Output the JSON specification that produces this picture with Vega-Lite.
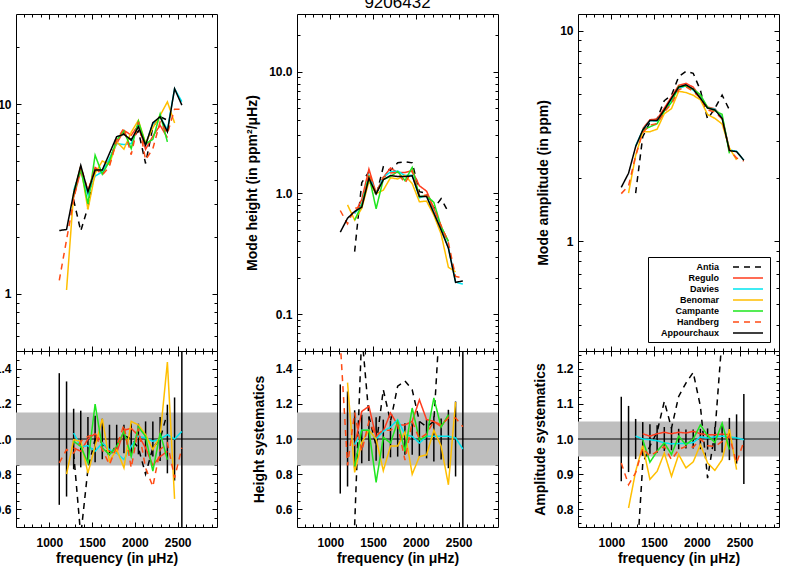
{
 "$schema": "https://vega.github.io/schema/vega-lite/v6.json",
 "autosize": "none",
 "padding": {"left": 16, "top": 14, "right": 779, "bottom": 572},
 "background": "white",
 "config": {
  "view": {"stroke": "black", "strokeWidth": 1},
  "font": "Liberation Sans",
  "axis": {"domain": false, "grid": false, "ticks": true, "tickColor": "black", "tickWidth": 1, "labelFont": "Liberation Sans", "labelFontWeight": "bold", "labelFontSize": 12, "labelColor": "black", "titleFont": "Liberation Sans", "titleFontWeight": "bold", "titleFontSize": 14, "titleColor": "black", "labelOverlap": false, "labelFlush": false, "labelBound": false}
 },
 "datasets": {
  "topL": [
   {"s":"Antia","f":1284,"v":3.13},{"s":"Antia","f":1367,"v":2.15},{"s":"Antia","f":1451,"v":2.87},{"s":"Antia","f":1535,"v":4.51},{"s":"Antia","f":1619,"v":4.42},{"s":"Antia","f":1703,"v":4.97},{"s":"Antia","f":1787,"v":6.56},{"s":"Antia","f":1872,"v":7.09},{"s":"Antia","f":1957,"v":6.49},{"s":"Antia","f":2041,"v":7.25},{"s":"Antia","f":2125,"v":4.88},{"s":"Antia","f":2210,"v":7.6},{"s":"Antia","f":2295,"v":8.61},{"s":"Antia","f":2380,"v":8.26},
   {"s":"Regulo","f":1284,"v":3.23},{"s":"Regulo","f":1367,"v":4.44},{"s":"Regulo","f":1451,"v":3.46},{"s":"Regulo","f":1535,"v":4.65},{"s":"Regulo","f":1619,"v":4.42},{"s":"Regulo","f":1703,"v":5.13},{"s":"Regulo","f":1787,"v":6.22},{"s":"Regulo","f":1872,"v":7.30},{"s":"Regulo","f":1957,"v":6.88},{"s":"Regulo","f":2041,"v":7.78},{"s":"Regulo","f":2125,"v":5.80},{"s":"Regulo","f":2210,"v":6.80},{"s":"Regulo","f":2295,"v":7.75},{"s":"Regulo","f":2380,"v":6.68},
   {"s":"Davies","f":1284,"v":3.52},{"s":"Davies","f":1367,"v":4.56},{"s":"Davies","f":1451,"v":3.33},{"s":"Davies","f":1535,"v":4.19},{"s":"Davies","f":1619,"v":4.41},{"s":"Davies","f":1703,"v":5.19},{"s":"Davies","f":1787,"v":6.22},{"s":"Davies","f":1872,"v":6.14},{"s":"Davies","f":1957,"v":6.22},{"s":"Davies","f":2041,"v":7.74},{"s":"Davies","f":2125,"v":6.14},{"s":"Davies","f":2210,"v":7.9},{"s":"Davies","f":2295,"v":8.61},{"s":"Davies","f":2380,"v":7.36},{"s":"Davies","f":2464,"v":12.1},{"s":"Davies","f":2549,"v":10.35},
   {"s":"Benomar","f":1201,"v":1.05},{"s":"Benomar","f":1284,"v":3.39},{"s":"Benomar","f":1367,"v":4.71},{"s":"Benomar","f":1451,"v":2.79},{"s":"Benomar","f":1535,"v":4.32},{"s":"Benomar","f":1619,"v":5.03},{"s":"Benomar","f":1703,"v":4.82},{"s":"Benomar","f":1787,"v":6.35},{"s":"Benomar","f":1872,"v":5.81},{"s":"Benomar","f":1957,"v":7.14},{"s":"Benomar","f":2041,"v":8.24},{"s":"Benomar","f":2125,"v":6.25},{"s":"Benomar","f":2210,"v":7.52},{"s":"Benomar","f":2295,"v":8.74},{"s":"Benomar","f":2380,"v":10.32},{"s":"Benomar","f":2464,"v":7.99},
   {"s":"Campante","f":1284,"v":3.36},{"s":"Campante","f":1367,"v":4.57},{"s":"Campante","f":1451,"v":2.99},{"s":"Campante","f":1535,"v":5.40},{"s":"Campante","f":1619,"v":4.28},{"s":"Campante","f":1703,"v":5.03},{"s":"Campante","f":1787,"v":6.48},{"s":"Campante","f":1872,"v":7.25},{"s":"Campante","f":1957,"v":5.84},{"s":"Campante","f":2041,"v":8.15},{"s":"Campante","f":2125,"v":6.19},{"s":"Campante","f":2210,"v":6.54},{"s":"Campante","f":2295,"v":8.90},{"s":"Campante","f":2380,"v":6.34},
   {"s":"Handberg","f":1116,"v":1.18},{"s":"Handberg","f":1201,"v":1.93},{"s":"Handberg","f":1284,"v":3.13},{"s":"Handberg","f":1367,"v":4.71},{"s":"Handberg","f":1451,"v":3.51},{"s":"Handberg","f":1535,"v":4.62},{"s":"Handberg","f":1619,"v":4.24},{"s":"Handberg","f":1703,"v":4.71},{"s":"Handberg","f":1787,"v":6.48},{"s":"Handberg","f":1872,"v":7.51},{"s":"Handberg","f":1957,"v":5.43},{"s":"Handberg","f":2041,"v":8.09},{"s":"Handberg","f":2125,"v":5.10},{"s":"Handberg","f":2210,"v":5.84},{"s":"Handberg","f":2295,"v":8.09},{"s":"Handberg","f":2380,"v":7.01},{"s":"Handberg","f":2464,"v":9.44},{"s":"Handberg","f":2549,"v":9.42},
   {"s":"Appourchaux","f":1116,"v":2.16},{"s":"Appourchaux","f":1201,"v":2.19},{"s":"Appourchaux","f":1284,"v":3.40},{"s":"Appourchaux","f":1367,"v":4.77},{"s":"Appourchaux","f":1451,"v":3.46},{"s":"Appourchaux","f":1535,"v":4.51},{"s":"Appourchaux","f":1619,"v":4.51},{"s":"Appourchaux","f":1703,"v":5.52},{"s":"Appourchaux","f":1787,"v":6.76},{"s":"Appourchaux","f":1872,"v":6.95},{"s":"Appourchaux","f":1957,"v":6.49},{"s":"Appourchaux","f":2041,"v":7.63},{"s":"Appourchaux","f":2125,"v":6.10},{"s":"Appourchaux","f":2210,"v":8.0},{"s":"Appourchaux","f":2295,"v":8.61},{"s":"Appourchaux","f":2380,"v":7.18},{"s":"Appourchaux","f":2464,"v":12.1},{"s":"Appourchaux","f":2549,"v":9.92}
  ],
  "topM": [
   {"s":"Antia","f":1284,"v":0.33},{"s":"Antia","f":1367,"v":1.22},{"s":"Antia","f":1451,"v":1.50},{"s":"Antia","f":1535,"v":0.95},{"s":"Antia","f":1619,"v":1.65},{"s":"Antia","f":1703,"v":1.54},{"s":"Antia","f":1787,"v":1.78},{"s":"Antia","f":1872,"v":1.82},{"s":"Antia","f":1957,"v":1.78},{"s":"Antia","f":2041,"v":1.03},{"s":"Antia","f":2125,"v":1.0},{"s":"Antia","f":2210,"v":0.75},{"s":"Antia","f":2295,"v":0.9},{"s":"Antia","f":2380,"v":0.7},
   {"s":"Regulo","f":1284,"v":0.68},{"s":"Regulo","f":1367,"v":0.886},{"s":"Regulo","f":1451,"v":1.58},{"s":"Regulo","f":1535,"v":1.0},{"s":"Regulo","f":1619,"v":1.35},{"s":"Regulo","f":1703,"v":1.61},{"s":"Regulo","f":1787,"v":1.48},{"s":"Regulo","f":1872,"v":1.48},{"s":"Regulo","f":1957,"v":1.53},{"s":"Regulo","f":2041,"v":1.15},{"s":"Regulo","f":2125,"v":1.04},{"s":"Regulo","f":2210,"v":0.75},{"s":"Regulo","f":2295,"v":0.53},{"s":"Regulo","f":2380,"v":0.40},
   {"s":"Davies","f":1284,"v":0.683},{"s":"Davies","f":1367,"v":0.804},{"s":"Davies","f":1451,"v":1.40},{"s":"Davies","f":1535,"v":0.987},{"s":"Davies","f":1619,"v":1.35},{"s":"Davies","f":1703,"v":1.50},{"s":"Davies","f":1787,"v":1.52},{"s":"Davies","f":1872,"v":1.40},{"s":"Davies","f":1957,"v":1.41},{"s":"Davies","f":2041,"v":0.917},{"s":"Davies","f":2125,"v":0.953},{"s":"Davies","f":2210,"v":0.694},{"s":"Davies","f":2295,"v":0.505},{"s":"Davies","f":2380,"v":0.357},{"s":"Davies","f":2464,"v":0.185},{"s":"Davies","f":2549,"v":0.178},
   {"s":"Benomar","f":1201,"v":0.80},{"s":"Benomar","f":1284,"v":0.60},{"s":"Benomar","f":1367,"v":0.75},{"s":"Benomar","f":1451,"v":1.25},{"s":"Benomar","f":1535,"v":0.99},{"s":"Benomar","f":1619,"v":1.06},{"s":"Benomar","f":1703,"v":1.34},{"s":"Benomar","f":1787,"v":1.31},{"s":"Benomar","f":1872,"v":1.40},{"s":"Benomar","f":1957,"v":1.20},{"s":"Benomar","f":2041,"v":0.85},{"s":"Benomar","f":2125,"v":0.86},{"s":"Benomar","f":2210,"v":0.66},{"s":"Benomar","f":2295,"v":0.46},{"s":"Benomar","f":2380,"v":0.245},{"s":"Benomar","f":2464,"v":0.225},
   {"s":"Campante","f":1284,"v":0.60},{"s":"Campante","f":1367,"v":0.80},{"s":"Campante","f":1451,"v":1.40},{"s":"Campante","f":1535,"v":0.744},{"s":"Campante","f":1619,"v":1.30},{"s":"Campante","f":1703,"v":1.37},{"s":"Campante","f":1787,"v":1.51},{"s":"Campante","f":1872,"v":1.27},{"s":"Campante","f":1957,"v":1.63},{"s":"Campante","f":2041,"v":0.935},{"s":"Campante","f":2125,"v":0.953},{"s":"Campante","f":2210,"v":0.84},{"s":"Campante","f":2295,"v":0.53},{"s":"Campante","f":2380,"v":0.40},
   {"s":"Handberg","f":1116,"v":0.72},{"s":"Handberg","f":1201,"v":0.558},{"s":"Handberg","f":1284,"v":0.752},{"s":"Handberg","f":1367,"v":0.766},{"s":"Handberg","f":1451,"v":1.46},{"s":"Handberg","f":1535,"v":1.0},{"s":"Handberg","f":1619,"v":1.35},{"s":"Handberg","f":1703,"v":1.47},{"s":"Handberg","f":1787,"v":1.48},{"s":"Handberg","f":1872,"v":1.21},{"s":"Handberg","f":1957,"v":1.53},{"s":"Handberg","f":2041,"v":0.94},{"s":"Handberg","f":2125,"v":0.97},{"s":"Handberg","f":2210,"v":0.75},{"s":"Handberg","f":2295,"v":0.54},{"s":"Handberg","f":2380,"v":0.39},{"s":"Handberg","f":2464,"v":0.206},{"s":"Handberg","f":2549,"v":0.20},
   {"s":"Appourchaux","f":1116,"v":0.477},{"s":"Appourchaux","f":1201,"v":0.622},{"s":"Appourchaux","f":1284,"v":0.706},{"s":"Appourchaux","f":1367,"v":0.766},{"s":"Appourchaux","f":1451,"v":1.33},{"s":"Appourchaux","f":1535,"v":0.987},{"s":"Appourchaux","f":1619,"v":1.29},{"s":"Appourchaux","f":1703,"v":1.40},{"s":"Appourchaux","f":1787,"v":1.37},{"s":"Appourchaux","f":1872,"v":1.37},{"s":"Appourchaux","f":1957,"v":1.39},{"s":"Appourchaux","f":2041,"v":0.939},{"s":"Appourchaux","f":2125,"v":0.939},{"s":"Appourchaux","f":2210,"v":0.684},{"s":"Appourchaux","f":2295,"v":0.498},{"s":"Appourchaux","f":2380,"v":0.352},{"s":"Appourchaux","f":2464,"v":0.184},{"s":"Appourchaux","f":2549,"v":0.189}
  ],
  "topR": [
   {"s":"Antia","f":1284,"v":1.69},{"s":"Antia","f":1367,"v":3.13},{"s":"Antia","f":1451,"v":3.67},{"s":"Antia","f":1535,"v":3.81},{"s":"Antia","f":1619,"v":4.65},{"s":"Antia","f":1703,"v":4.92},{"s":"Antia","f":1787,"v":6.04},{"s":"Antia","f":1872,"v":6.41},{"s":"Antia","f":1957,"v":6.27},{"s":"Antia","f":2041,"v":5.21},{"s":"Antia","f":2125,"v":3.80},{"s":"Antia","f":2210,"v":4.27},{"s":"Antia","f":2295,"v":4.94},{"s":"Antia","f":2380,"v":4.20},
   {"s":"Regulo","f":1367,"v":3.42},{"s":"Regulo","f":1451,"v":3.77},{"s":"Regulo","f":1535,"v":3.80},{"s":"Regulo","f":1619,"v":4.28},{"s":"Regulo","f":1703,"v":4.84},{"s":"Regulo","f":1787,"v":5.49},{"s":"Regulo","f":1872,"v":5.62},{"s":"Regulo","f":1957,"v":5.39},{"s":"Regulo","f":2041,"v":4.84},{"s":"Regulo","f":2125,"v":4.33},{"s":"Regulo","f":2210,"v":4.25},{"s":"Regulo","f":2295,"v":3.88},{"s":"Regulo","f":2380,"v":2.72},
   {"s":"Davies","f":1284,"v":2.83},{"s":"Davies","f":1367,"v":3.37},{"s":"Davies","f":1451,"v":3.73},{"s":"Davies","f":1535,"v":3.72},{"s":"Davies","f":1619,"v":4.15},{"s":"Davies","f":1703,"v":4.70},{"s":"Davies","f":1787,"v":5.32},{"s":"Davies","f":1872,"v":5.46},{"s":"Davies","f":1957,"v":5.22},{"s":"Davies","f":2041,"v":4.80},{"s":"Davies","f":2125,"v":4.29},{"s":"Davies","f":2210,"v":4.23},{"s":"Davies","f":2295,"v":3.86},{"s":"Davies","f":2380,"v":2.71},{"s":"Davies","f":2464,"v":2.67},{"s":"Davies","f":2549,"v":2.42},
   {"s":"Benomar","f":1201,"v":1.69},{"s":"Benomar","f":1284,"v":2.55},{"s":"Benomar","f":1367,"v":3.31},{"s":"Benomar","f":1451,"v":3.31},{"s":"Benomar","f":1535,"v":3.40},{"s":"Benomar","f":1619,"v":4.03},{"s":"Benomar","f":1703,"v":4.26},{"s":"Benomar","f":1787,"v":5.15},{"s":"Benomar","f":1872,"v":5.08},{"s":"Benomar","f":1957,"v":4.93},{"s":"Benomar","f":2041,"v":4.69},{"s":"Benomar","f":2125,"v":3.99},{"s":"Benomar","f":2210,"v":3.83},{"s":"Benomar","f":2295,"v":3.60},{"s":"Benomar","f":2380,"v":2.77},{"s":"Benomar","f":2464,"v":2.43},
   {"s":"Campante","f":1367,"v":3.36},{"s":"Campante","f":1451,"v":3.49},{"s":"Campante","f":1535,"v":3.61},{"s":"Campante","f":1619,"v":4.15},{"s":"Campante","f":1703,"v":4.56},{"s":"Campante","f":1787,"v":5.43},{"s":"Campante","f":1872,"v":5.44},{"s":"Campante","f":1957,"v":5.27},{"s":"Campante","f":2041,"v":4.96},{"s":"Campante","f":2125,"v":4.32},{"s":"Campante","f":2210,"v":4.16},{"s":"Campante","f":2295,"v":4.0},{"s":"Campante","f":2380,"v":2.61},
   {"s":"Handberg","f":1116,"v":1.68},{"s":"Handberg","f":1201,"v":1.83},{"s":"Handberg","f":1284,"v":2.54},{"s":"Handberg","f":1367,"v":3.28},{"s":"Handberg","f":1451,"v":3.56},{"s":"Handberg","f":1535,"v":3.61},{"s":"Handberg","f":1619,"v":4.11},{"s":"Handberg","f":1703,"v":4.49},{"s":"Handberg","f":1787,"v":5.23},{"s":"Handberg","f":1872,"v":5.41},{"s":"Handberg","f":1957,"v":5.15},{"s":"Handberg","f":2041,"v":4.77},{"s":"Handberg","f":2125,"v":4.20},{"s":"Handberg","f":2210,"v":4.11},{"s":"Handberg","f":2295,"v":3.80},{"s":"Handberg","f":2380,"v":2.71},{"s":"Handberg","f":2464,"v":2.48},{"s":"Handberg","f":2549,"v":2.40},
   {"s":"Appourchaux","f":1116,"v":1.80},{"s":"Appourchaux","f":1201,"v":2.10},{"s":"Appourchaux","f":1284,"v":2.81},{"s":"Appourchaux","f":1367,"v":3.37},{"s":"Appourchaux","f":1451,"v":3.74},{"s":"Appourchaux","f":1535,"v":3.74},{"s":"Appourchaux","f":1619,"v":4.20},{"s":"Appourchaux","f":1703,"v":4.77},{"s":"Appourchaux","f":1787,"v":5.39},{"s":"Appourchaux","f":1872,"v":5.53},{"s":"Appourchaux","f":1957,"v":5.27},{"s":"Appourchaux","f":2041,"v":4.77},{"s":"Appourchaux","f":2125,"v":4.28},{"s":"Appourchaux","f":2210,"v":4.20},{"s":"Appourchaux","f":2295,"v":3.83},{"s":"Appourchaux","f":2380,"v":2.69},{"s":"Appourchaux","f":2464,"v":2.66},{"s":"Appourchaux","f":2549,"v":2.42}
  ],
  "ratL": [
   {"s":"Antia","f":1284,"v":0.92},{"s":"Antia","f":1367,"v":0.45},{"s":"Antia","f":1451,"v":0.83},{"s":"Antia","f":1535,"v":1.0},{"s":"Antia","f":1619,"v":0.98},{"s":"Antia","f":1703,"v":0.9},{"s":"Antia","f":1787,"v":0.97},{"s":"Antia","f":1872,"v":1.02},{"s":"Antia","f":1957,"v":1.0},{"s":"Antia","f":2041,"v":0.95},{"s":"Antia","f":2125,"v":0.8},{"s":"Antia","f":2210,"v":0.95},{"s":"Antia","f":2295,"v":1.0},{"s":"Antia","f":2380,"v":1.15},
   {"s":"Regulo","f":1284,"v":0.95},{"s":"Regulo","f":1367,"v":0.93},{"s":"Regulo","f":1451,"v":1.0},{"s":"Regulo","f":1535,"v":1.03},{"s":"Regulo","f":1619,"v":0.98},{"s":"Regulo","f":1703,"v":0.93},{"s":"Regulo","f":1787,"v":0.92},{"s":"Regulo","f":1872,"v":1.05},{"s":"Regulo","f":1957,"v":1.06},{"s":"Regulo","f":2041,"v":1.02},{"s":"Regulo","f":2125,"v":0.95},{"s":"Regulo","f":2210,"v":0.85},{"s":"Regulo","f":2295,"v":0.9},{"s":"Regulo","f":2380,"v":0.93},
   {"s":"Davies","f":1284,"v":1.034},{"s":"Davies","f":1367,"v":0.955},{"s":"Davies","f":1451,"v":0.962},{"s":"Davies","f":1535,"v":0.93},{"s":"Davies","f":1619,"v":0.977},{"s":"Davies","f":1703,"v":0.94},{"s":"Davies","f":1787,"v":0.92},{"s":"Davies","f":1872,"v":0.883},{"s":"Davies","f":1957,"v":0.958},{"s":"Davies","f":2041,"v":1.015},{"s":"Davies","f":2125,"v":1.006},{"s":"Davies","f":2210,"v":0.987},{"s":"Davies","f":2295,"v":1.0},{"s":"Davies","f":2380,"v":1.025},{"s":"Davies","f":2464,"v":1.0},{"s":"Davies","f":2549,"v":1.043},
   {"s":"Benomar","f":1201,"v":0.80},{"s":"Benomar","f":1284,"v":0.996},{"s":"Benomar","f":1367,"v":0.987},{"s":"Benomar","f":1451,"v":0.807},{"s":"Benomar","f":1535,"v":0.958},{"s":"Benomar","f":1619,"v":1.115},{"s":"Benomar","f":1703,"v":0.873},{"s":"Benomar","f":1787,"v":0.94},{"s":"Benomar","f":1872,"v":0.836},{"s":"Benomar","f":1957,"v":1.10},{"s":"Benomar","f":2041,"v":1.08},{"s":"Benomar","f":2125,"v":1.025},{"s":"Benomar","f":2210,"v":0.94},{"s":"Benomar","f":2295,"v":1.015},{"s":"Benomar","f":2380,"v":1.437},{"s":"Benomar","f":2464,"v":0.66},
   {"s":"Campante","f":1284,"v":0.987},{"s":"Campante","f":1367,"v":0.958},{"s":"Campante","f":1451,"v":0.864},{"s":"Campante","f":1535,"v":1.198},{"s":"Campante","f":1619,"v":0.95},{"s":"Campante","f":1703,"v":0.911},{"s":"Campante","f":1787,"v":0.958},{"s":"Campante","f":1872,"v":1.043},{"s":"Campante","f":1957,"v":0.90},{"s":"Campante","f":2041,"v":1.068},{"s":"Campante","f":2125,"v":1.015},{"s":"Campante","f":2210,"v":0.817},{"s":"Campante","f":2295,"v":1.034},{"s":"Campante","f":2380,"v":0.883},
   {"s":"Handberg","f":1116,"v":0.864},{"s":"Handberg","f":1201,"v":0.94},{"s":"Handberg","f":1284,"v":0.92},{"s":"Handberg","f":1367,"v":0.987},{"s":"Handberg","f":1451,"v":1.015},{"s":"Handberg","f":1535,"v":1.025},{"s":"Handberg","f":1619,"v":0.94},{"s":"Handberg","f":1703,"v":0.854},{"s":"Handberg","f":1787,"v":0.958},{"s":"Handberg","f":1872,"v":1.08},{"s":"Handberg","f":1957,"v":0.836},{"s":"Handberg","f":2041,"v":1.06},{"s":"Handberg","f":2125,"v":0.836},{"s":"Handberg","f":2210,"v":0.73},{"s":"Handberg","f":2295,"v":0.94},{"s":"Handberg","f":2380,"v":0.977},{"s":"Handberg","f":2464,"v":0.78},{"s":"Handberg","f":2549,"v":0.95}
  ],
  "ratM": [
   {"s":"Antia","f":1284,"v":0.51},{"s":"Antia","f":1367,"v":1.6},{"s":"Antia","f":1451,"v":1.13},{"s":"Antia","f":1535,"v":0.96},{"s":"Antia","f":1619,"v":1.28},{"s":"Antia","f":1703,"v":1.10},{"s":"Antia","f":1787,"v":1.30},{"s":"Antia","f":1872,"v":1.33},{"s":"Antia","f":1957,"v":1.28},{"s":"Antia","f":2041,"v":1.10},{"s":"Antia","f":2125,"v":1.07},{"s":"Antia","f":2210,"v":1.10},{"s":"Antia","f":2295,"v":1.8},{"s":"Antia","f":2380,"v":2.0},
   {"s":"Regulo","f":1284,"v":0.96},{"s":"Regulo","f":1367,"v":1.157},{"s":"Regulo","f":1451,"v":1.186},{"s":"Regulo","f":1535,"v":1.01},{"s":"Regulo","f":1619,"v":1.044},{"s":"Regulo","f":1703,"v":1.148},{"s":"Regulo","f":1787,"v":1.08},{"s":"Regulo","f":1872,"v":1.08},{"s":"Regulo","f":1957,"v":1.10},{"s":"Regulo","f":2041,"v":1.223},{"s":"Regulo","f":2125,"v":1.11},{"s":"Regulo","f":2210,"v":1.10},{"s":"Regulo","f":2295,"v":1.07},{"s":"Regulo","f":2380,"v":1.13},
   {"s":"Davies","f":1284,"v":0.968},{"s":"Davies","f":1367,"v":1.05},{"s":"Davies","f":1451,"v":1.05},{"s":"Davies","f":1535,"v":1.0},{"s":"Davies","f":1619,"v":1.044},{"s":"Davies","f":1703,"v":1.068},{"s":"Davies","f":1787,"v":1.11},{"s":"Davies","f":1872,"v":1.025},{"s":"Davies","f":1957,"v":1.015},{"s":"Davies","f":2041,"v":0.977},{"s":"Davies","f":2125,"v":1.015},{"s":"Davies","f":2210,"v":1.015},{"s":"Davies","f":2295,"v":1.015},{"s":"Davies","f":2380,"v":1.015},{"s":"Davies","f":2464,"v":1.006},{"s":"Davies","f":2549,"v":0.943},
   {"s":"Benomar","f":1201,"v":1.32},{"s":"Benomar","f":1284,"v":0.81},{"s":"Benomar","f":1367,"v":0.98},{"s":"Benomar","f":1451,"v":1.05},{"s":"Benomar","f":1535,"v":1.0},{"s":"Benomar","f":1619,"v":0.82},{"s":"Benomar","f":1703,"v":0.96},{"s":"Benomar","f":1787,"v":0.96},{"s":"Benomar","f":1872,"v":1.04},{"s":"Benomar","f":1957,"v":0.80},{"s":"Benomar","f":2041,"v":0.90},{"s":"Benomar","f":2125,"v":0.91},{"s":"Benomar","f":2210,"v":1.05},{"s":"Benomar","f":2295,"v":0.96},{"s":"Benomar","f":2380,"v":0.74},{"s":"Benomar","f":2464,"v":1.21},
   {"s":"Campante","f":1284,"v":0.845},{"s":"Campante","f":1367,"v":1.05},{"s":"Campante","f":1451,"v":1.05},{"s":"Campante","f":1535,"v":0.754},{"s":"Campante","f":1619,"v":1.01},{"s":"Campante","f":1703,"v":0.977},{"s":"Campante","f":1787,"v":1.10},{"s":"Campante","f":1872,"v":0.93},{"s":"Campante","f":1957,"v":1.176},{"s":"Campante","f":2041,"v":0.996},{"s":"Campante","f":2125,"v":1.015},{"s":"Campante","f":2210,"v":1.233},{"s":"Campante","f":2295,"v":1.068},{"s":"Campante","f":2380,"v":1.138},
   {"s":"Handberg","f":1116,"v":1.55},{"s":"Handberg","f":1201,"v":0.85},{"s":"Handberg","f":1284,"v":1.15},{"s":"Handberg","f":1367,"v":0.93},{"s":"Handberg","f":1451,"v":1.1},{"s":"Handberg","f":1535,"v":1.02},{"s":"Handberg","f":1619,"v":1.05},{"s":"Handberg","f":1703,"v":1.05},{"s":"Handberg","f":1787,"v":1.08},{"s":"Handberg","f":1872,"v":0.88},{"s":"Handberg","f":1957,"v":1.1},{"s":"Handberg","f":2041,"v":1.0},{"s":"Handberg","f":2125,"v":1.03},{"s":"Handberg","f":2210,"v":1.1},{"s":"Handberg","f":2295,"v":1.08},{"s":"Handberg","f":2380,"v":1.12},{"s":"Handberg","f":2464,"v":1.12},{"s":"Handberg","f":2549,"v":1.07}
  ],
  "ratR": [
   {"s":"Antia","f":1284,"v":0.6},{"s":"Antia","f":1367,"v":0.93},{"s":"Antia","f":1451,"v":0.98},{"s":"Antia","f":1535,"v":1.02},{"s":"Antia","f":1619,"v":1.107},{"s":"Antia","f":1703,"v":1.031},{"s":"Antia","f":1787,"v":1.121},{"s":"Antia","f":1872,"v":1.159},{"s":"Antia","f":1957,"v":1.189},{"s":"Antia","f":2041,"v":1.093},{"s":"Antia","f":2125,"v":0.889},{"s":"Antia","f":2210,"v":1.017},{"s":"Antia","f":2295,"v":1.29},{"s":"Antia","f":2380,"v":1.56},
   {"s":"Regulo","f":1367,"v":1.015},{"s":"Regulo","f":1451,"v":1.008},{"s":"Regulo","f":1535,"v":1.015},{"s":"Regulo","f":1619,"v":1.019},{"s":"Regulo","f":1703,"v":1.015},{"s":"Regulo","f":1787,"v":1.019},{"s":"Regulo","f":1872,"v":1.017},{"s":"Regulo","f":1957,"v":1.022},{"s":"Regulo","f":2041,"v":1.015},{"s":"Regulo","f":2125,"v":1.012},{"s":"Regulo","f":2210,"v":1.012},{"s":"Regulo","f":2295,"v":1.014},{"s":"Regulo","f":2380,"v":1.012},
   {"s":"Davies","f":1284,"v":1.008},{"s":"Davies","f":1367,"v":1.0},{"s":"Davies","f":1451,"v":0.998},{"s":"Davies","f":1535,"v":0.995},{"s":"Davies","f":1619,"v":0.989},{"s":"Davies","f":1703,"v":0.986},{"s":"Davies","f":1787,"v":0.987},{"s":"Davies","f":1872,"v":0.987},{"s":"Davies","f":1957,"v":0.99},{"s":"Davies","f":2041,"v":1.006},{"s":"Davies","f":2125,"v":1.003},{"s":"Davies","f":2210,"v":1.006},{"s":"Davies","f":2295,"v":1.008},{"s":"Davies","f":2380,"v":1.006},{"s":"Davies","f":2464,"v":1.003},{"s":"Davies","f":2549,"v":0.998},
   {"s":"Benomar","f":1201,"v":0.804},{"s":"Benomar","f":1284,"v":0.908},{"s":"Benomar","f":1367,"v":0.981},{"s":"Benomar","f":1451,"v":0.885},{"s":"Benomar","f":1535,"v":0.908},{"s":"Benomar","f":1619,"v":0.96},{"s":"Benomar","f":1703,"v":0.894},{"s":"Benomar","f":1787,"v":0.956},{"s":"Benomar","f":1872,"v":0.918},{"s":"Benomar","f":1957,"v":0.935},{"s":"Benomar","f":2041,"v":0.984},{"s":"Benomar","f":2125,"v":0.932},{"s":"Benomar","f":2210,"v":0.911},{"s":"Benomar","f":2295,"v":0.941},{"s":"Benomar","f":2380,"v":1.028},{"s":"Benomar","f":2464,"v":0.913},
   {"s":"Campante","f":1367,"v":0.998},{"s":"Campante","f":1451,"v":0.934},{"s":"Campante","f":1535,"v":0.965},{"s":"Campante","f":1619,"v":0.989},{"s":"Campante","f":1703,"v":0.956},{"s":"Campante","f":1787,"v":1.008},{"s":"Campante","f":1872,"v":0.984},{"s":"Campante","f":1957,"v":1.0},{"s":"Campante","f":2041,"v":1.04},{"s":"Campante","f":2125,"v":1.01},{"s":"Campante","f":2210,"v":0.99},{"s":"Campante","f":2295,"v":1.045},{"s":"Campante","f":2380,"v":0.97},
   {"s":"Handberg","f":1116,"v":0.932},{"s":"Handberg","f":1201,"v":0.87},{"s":"Handberg","f":1284,"v":0.904},{"s":"Handberg","f":1367,"v":0.974},{"s":"Handberg","f":1451,"v":0.951},{"s":"Handberg","f":1535,"v":0.965},{"s":"Handberg","f":1619,"v":0.979},{"s":"Handberg","f":1703,"v":0.941},{"s":"Handberg","f":1787,"v":0.97},{"s":"Handberg","f":1872,"v":0.979},{"s":"Handberg","f":1957,"v":0.977},{"s":"Handberg","f":2041,"v":1.0},{"s":"Handberg","f":2125,"v":0.981},{"s":"Handberg","f":2210,"v":0.979},{"s":"Handberg","f":2295,"v":0.993},{"s":"Handberg","f":2380,"v":1.008},{"s":"Handberg","f":2464,"v":0.932},{"s":"Handberg","f":2549,"v":0.993}
  ],
  "errL": [
   {"f":1116,"lo":0.626,"hi":1.374},{"f":1201,"lo":0.673,"hi":1.327},{"f":1284,"lo":0.828,"hi":1.172},{"f":1367,"lo":0.839,"hi":1.161},{"f":1451,"lo":0.875,"hi":1.125},{"f":1535,"lo":0.868,"hi":1.132},{"f":1619,"lo":0.885,"hi":1.115},{"f":1703,"lo":0.919,"hi":1.081},{"f":1787,"lo":0.919,"hi":1.081},{"f":1872,"lo":0.919,"hi":1.081},{"f":1957,"lo":0.913,"hi":1.087},{"f":2041,"lo":0.913,"hi":1.087},{"f":2125,"lo":0.9,"hi":1.1},{"f":2210,"lo":0.9,"hi":1.1},{"f":2295,"lo":0.875,"hi":1.125},{"f":2380,"lo":0.805,"hi":1.195},{"f":2464,"lo":0.764,"hi":1.236},{"f":2549,"lo":0.3,"hi":1.7}
  ],
  "errM": [
   {"f":1116,"lo":0.69,"hi":1.31},{"f":1201,"lo":0.73,"hi":1.27},{"f":1284,"lo":0.837,"hi":1.163},{"f":1367,"lo":0.862,"hi":1.138},{"f":1451,"lo":0.875,"hi":1.125},{"f":1535,"lo":0.877,"hi":1.123},{"f":1619,"lo":0.89,"hi":1.11},{"f":1703,"lo":0.896,"hi":1.104},{"f":1787,"lo":0.9,"hi":1.1},{"f":1872,"lo":0.91,"hi":1.09},{"f":1957,"lo":0.91,"hi":1.09},{"f":2041,"lo":0.9,"hi":1.1},{"f":2125,"lo":0.89,"hi":1.11},{"f":2210,"lo":0.872,"hi":1.128},{"f":2295,"lo":0.883,"hi":1.117},{"f":2380,"lo":0.834,"hi":1.166},{"f":2464,"lo":0.787,"hi":1.213},{"f":2549,"lo":0.3,"hi":1.7}
  ],
  "errR": [
   {"f":1116,"lo":0.88,"hi":1.12},{"f":1201,"lo":0.906,"hi":1.094},{"f":1284,"lo":0.943,"hi":1.057},{"f":1367,"lo":0.952,"hi":1.048},{"f":1451,"lo":0.958,"hi":1.042},{"f":1535,"lo":0.961,"hi":1.039},{"f":1619,"lo":0.966,"hi":1.034},{"f":1703,"lo":0.968,"hi":1.032},{"f":1787,"lo":0.971,"hi":1.029},{"f":1872,"lo":0.973,"hi":1.027},{"f":1957,"lo":0.973,"hi":1.027},{"f":2041,"lo":0.971,"hi":1.029},{"f":2125,"lo":0.97,"hi":1.03},{"f":2210,"lo":0.966,"hi":1.034},{"f":2295,"lo":0.962,"hi":1.038},{"f":2380,"lo":0.94,"hi":1.06},{"f":2464,"lo":0.93,"hi":1.07},{"f":2549,"lo":0.872,"hi":1.128}
  ]
 },
 "columns": 3,
 "spacing": {"row": 0, "column": 80},
 "bounds": "flush",
 "resolve": {"scale": {"color": "independent", "strokeDash": "independent"}, "legend": {"color": "independent", "strokeDash": "independent"}},
 "concat": [
  {
   "width": 201, "height": 337,
   "resolve": {"axis": {"x": "independent", "y": "independent"}},
   "layer": [
    {"data": {"name": "topL"},
     "mark": {"type": "line", "clip": true, "strokeWidth": 1.5},
     "encoding": {
      "x": {"field": "f", "type": "quantitative", "scale": {"domain": [610, 2960], "nice": false, "zero": false},
            "axis": {"orient": "bottom", "values": [700,800,900,1000,1100,1200,1300,1400,1500,1600,1700,1800,1900,2000,2100,2200,2300,2400,2500,2600,2700,2800,2900], "labels": false, "title": null, "tickSize": {"condition": {"test": "datum.value % 500 == 0", "value": -5}, "value": -3}}},
      "y": {"field": "v", "type": "quantitative", "scale": {"type": "log", "domain": [0.5, 30], "nice": false},
            "axis": {"orient": "left", "values": [0.6,0.7,0.8,0.9,1,2,3,4,5,6,7,8,9,10,20], "format": "~g", "labelExpr": "datum.value == 1 || datum.value == 10 ? datum.label : ''", "tickSize": {"condition": {"test": "datum.value == 1 || datum.value == 10", "value": -5}, "value": -3}, "labelPadding": 10, "title": "Mode linewidth (in μHz)", "titlePadding": 9}},
      "color": {"field": "s", "type": "nominal", "scale": {"domain": ["Antia","Regulo","Davies","Benomar","Campante","Handberg","Appourchaux"], "range": ["black","#ff3c1e","#00e5f0","#ffbf00","#1ee61e","#ff4b14","black"]}, "legend": null},
      "strokeDash": {"field": "s", "type": "nominal", "scale": {"domain": ["Antia","Regulo","Davies","Benomar","Campante","Handberg","Appourchaux"], "range": [[6,5],[1,0],[1,0],[1,0],[1,0],[6,5],[1,0]]}, "legend": null}
     }},
    {"data": {"name": "topL"},
     "mark": {"type": "point", "opacity": 0},
     "encoding": {
      "x": {"field": "f", "type": "quantitative", "axis": {"orient": "top", "values": [700,800,900,1000,1100,1200,1300,1400,1500,1600,1700,1800,1900,2000,2100,2200,2300,2400,2500,2600,2700,2800,2900], "labels": false, "title": null, "tickSize": {"condition": {"test": "datum.value % 500 == 0", "value": -5}, "value": -3}}},
      "y": {"field": "v", "type": "quantitative", "axis": {"orient": "right", "values": [0.6,0.7,0.8,0.9,1,2,3,4,5,6,7,8,9,10,20], "labels": false, "title": null, "tickSize": {"condition": {"test": "datum.value == 1 || datum.value == 10", "value": -5}, "value": -3}}}
     }}
   ]
  },
  {
   "width": 201, "height": 337,
   "title": {"text": "9206432", "fontSize": 17, "fontWeight": "normal", "font": "Liberation Sans", "color": "black", "baseline": "alphabetic", "offset": -11, "frame": "group", "anchor": "middle"},
   "resolve": {"axis": {"x": "independent", "y": "independent"}},
   "layer": [
    {"data": {"name": "topM"},
     "mark": {"type": "line", "clip": true, "strokeWidth": 1.5},
     "encoding": {
      "x": {"field": "f", "type": "quantitative", "scale": {"domain": [610, 2960], "nice": false, "zero": false},
            "axis": {"orient": "bottom", "values": [700,800,900,1000,1100,1200,1300,1400,1500,1600,1700,1800,1900,2000,2100,2200,2300,2400,2500,2600,2700,2800,2900], "labels": false, "title": null, "tickSize": {"condition": {"test": "datum.value % 500 == 0", "value": -5}, "value": -3}}},
      "y": {"field": "v", "type": "quantitative", "scale": {"type": "log", "domain": [0.05, 30], "nice": false},
            "axis": {"orient": "left", "values": [0.06,0.07,0.08,0.09,0.1,0.2,0.3,0.4,0.5,0.6,0.7,0.8,0.9,1,2,3,4,5,6,7,8,9,10,20], "format": ".1f", "labelExpr": "datum.value == 0.1 || datum.value == 1 || datum.value == 10 ? datum.label : ''", "tickSize": {"condition": {"test": "datum.value == 0.1 || datum.value == 1 || datum.value == 10", "value": -5}, "value": -3}, "labelPadding": 10, "title": "Mode height (in ppm²/μHz)", "titlePadding": 9}},
      "color": {"field": "s", "type": "nominal", "scale": {"domain": ["Antia","Regulo","Davies","Benomar","Campante","Handberg","Appourchaux"], "range": ["black","#ff3c1e","#00e5f0","#ffbf00","#1ee61e","#ff4b14","black"]}, "legend": null},
      "strokeDash": {"field": "s", "type": "nominal", "scale": {"domain": ["Antia","Regulo","Davies","Benomar","Campante","Handberg","Appourchaux"], "range": [[6,5],[1,0],[1,0],[1,0],[1,0],[6,5],[1,0]]}, "legend": null}
     }},
    {"data": {"name": "topM"},
     "mark": {"type": "point", "opacity": 0},
     "encoding": {
      "x": {"field": "f", "type": "quantitative", "axis": {"orient": "top", "values": [700,800,900,1000,1100,1200,1300,1400,1500,1600,1700,1800,1900,2000,2100,2200,2300,2400,2500,2600,2700,2800,2900], "labels": false, "title": null, "tickSize": {"condition": {"test": "datum.value % 500 == 0", "value": -5}, "value": -3}}},
      "y": {"field": "v", "type": "quantitative", "axis": {"orient": "right", "values": [0.06,0.07,0.08,0.09,0.1,0.2,0.3,0.4,0.5,0.6,0.7,0.8,0.9,1,2,3,4,5,6,7,8,9,10,20], "labels": false, "title": null, "tickSize": {"condition": {"test": "datum.value == 0.1 || datum.value == 1 || datum.value == 10", "value": -5}, "value": -3}}}
     }}
   ]
  },
  {
   "width": 201, "height": 337,
   "resolve": {"axis": {"x": "independent", "y": "independent"}},
   "layer": [
    {"data": {"name": "topR"},
     "mark": {"type": "line", "clip": true, "strokeWidth": 1.5},
     "encoding": {
      "x": {"field": "f", "type": "quantitative", "scale": {"domain": [610, 2960], "nice": false, "zero": false},
            "axis": {"orient": "bottom", "values": [700,800,900,1000,1100,1200,1300,1400,1500,1600,1700,1800,1900,2000,2100,2200,2300,2400,2500,2600,2700,2800,2900], "labels": false, "title": null, "tickSize": {"condition": {"test": "datum.value % 500 == 0", "value": -5}, "value": -3}}},
      "y": {"field": "v", "type": "quantitative", "scale": {"type": "log", "domain": [0.3, 12], "nice": false},
            "axis": {"orient": "left", "values": [0.4,0.5,0.6,0.7,0.8,0.9,1,2,3,4,5,6,7,8,9,10], "format": "~g", "labelExpr": "datum.value == 1 || datum.value == 10 ? datum.label : ''", "tickSize": {"condition": {"test": "datum.value == 1 || datum.value == 10", "value": -5}, "value": -3}, "labelPadding": 10, "title": "Mode amplitude (in ppm)", "titlePadding": 9}},
      "color": {"field": "s", "type": "nominal", "scale": {"domain": ["Antia","Regulo","Davies","Benomar","Campante","Handberg","Appourchaux"], "range": ["black","#ff3c1e","#00e5f0","#ffbf00","#1ee61e","#ff4b14","black"]},
                "legend": {"orient": "bottom-right", "offset": 9, "title": null, "symbolType": "M-3,0H3", "symbolSize": 100, "symbolStrokeWidth": 1.5, "symbolOffset": 90, "labelAlign": "right", "labelOffset": -35, "labelFont": "Liberation Sans", "labelFontSize": 9, "labelFontWeight": "bold", "labelColor": "black", "strokeColor": "black", "fillColor": "white", "padding": 4, "rowPadding": -1, "labelLimit": 0}},
      "strokeDash": {"field": "s", "type": "nominal", "scale": {"domain": ["Antia","Regulo","Davies","Benomar","Campante","Handberg","Appourchaux"], "range": [[6,5],[1,0],[1,0],[1,0],[1,0],[6,5],[1,0]]},
                "legend": {"orient": "bottom-right", "offset": 9, "title": null, "symbolType": "M-3,0H3", "symbolSize": 100, "symbolStrokeWidth": 1.5, "symbolOffset": 90, "labelAlign": "right", "labelOffset": -35, "labelFont": "Liberation Sans", "labelFontSize": 9, "labelFontWeight": "bold", "labelColor": "black", "strokeColor": "black", "fillColor": "white", "padding": 4, "rowPadding": -1, "labelLimit": 0}}
     }},
    {"data": {"name": "topR"},
     "mark": {"type": "point", "opacity": 0},
     "encoding": {
      "x": {"field": "f", "type": "quantitative", "axis": {"orient": "top", "values": [700,800,900,1000,1100,1200,1300,1400,1500,1600,1700,1800,1900,2000,2100,2200,2300,2400,2500,2600,2700,2800,2900], "labels": false, "title": null, "tickSize": {"condition": {"test": "datum.value % 500 == 0", "value": -5}, "value": -3}}},
      "y": {"field": "v", "type": "quantitative", "axis": {"orient": "right", "values": [0.4,0.5,0.6,0.7,0.8,0.9,1,2,3,4,5,6,7,8,9,10], "labels": false, "title": null, "tickSize": {"condition": {"test": "datum.value == 1 || datum.value == 10", "value": -5}, "value": -3}}}
     }}
   ]
  },
  {
   "width": 201, "height": 176,
   "resolve": {"axis": {"x": "independent", "y": "independent"}},
   "layer": [
    {"data": {"values": [{"lo": 0.85, "hi": 1.15}]},
     "mark": {"type": "rect", "color": "#bebebe"},
     "encoding": {"y": {"field": "lo", "type": "quantitative", "scale": {"domain": [0.5, 1.5], "nice": false, "zero": false}, "axis": null}, "y2": {"field": "hi"}}},
    {"data": {"values": [{"one": 1}]},
     "mark": {"type": "rule", "color": "black", "strokeWidth": 1.2},
     "encoding": {"y": {"field": "one", "type": "quantitative", "axis": null}}},
    {"data": {"name": "errL"},
     "mark": {"type": "rule", "color": "black", "strokeWidth": 1.5, "clip": true},
     "encoding": {"x": {"field": "f", "type": "quantitative", "scale": {"domain": [610, 2960], "nice": false, "zero": false}, "axis": null}, "y": {"field": "lo", "type": "quantitative", "axis": null}, "y2": {"field": "hi"}}},
    {"data": {"name": "ratL"},
     "mark": {"type": "line", "clip": true, "strokeWidth": 1.5},
     "encoding": {
      "x": {"field": "f", "type": "quantitative", "axis": {"orient": "bottom", "values": [700,800,900,1000,1100,1200,1300,1400,1500,1600,1700,1800,1900,2000,2100,2200,2300,2400,2500,2600,2700,2800,2900], "format": "d", "labelExpr": "datum.value % 500 == 0 ? datum.label : ''", "tickSize": {"condition": {"test": "datum.value % 500 == 0", "value": -5}, "value": -3}, "labelPadding": 15, "title": "frequency (in μHz)", "titlePadding": 1}},
      "y": {"field": "v", "type": "quantitative", "axis": {"orient": "left", "values": [0.55,0.6,0.65,0.7,0.75,0.8,0.85,0.9,0.95,1,1.05,1.1,1.15,1.2,1.25,1.3,1.35,1.4,1.45], "format": ".1f", "labelExpr": "abs(datum.value*5 - round(datum.value*5)) < 0.01 ? datum.label : ''", "tickSize": {"condition": {"test": "abs(datum.value*5 - round(datum.value*5)) < 0.01", "value": -5}, "value": -3}, "labelPadding": 10, "title": "Linewidth systematics", "titlePadding": 9}},
      "color": {"field": "s", "type": "nominal", "scale": {"domain": ["Antia","Regulo","Davies","Benomar","Campante","Handberg","Appourchaux"], "range": ["black","#ff3c1e","#00e5f0","#ffbf00","#1ee61e","#ff4b14","black"]}, "legend": null},
      "strokeDash": {"field": "s", "type": "nominal", "scale": {"domain": ["Antia","Regulo","Davies","Benomar","Campante","Handberg","Appourchaux"], "range": [[6,5],[1,0],[1,0],[1,0],[1,0],[6,5],[1,0]]}, "legend": null}
     }},
    {"data": {"name": "ratL"},
     "mark": {"type": "point", "opacity": 0},
     "encoding": {
      "x": {"field": "f", "type": "quantitative", "axis": {"orient": "top", "values": [700,800,900,1000,1100,1200,1300,1400,1500,1600,1700,1800,1900,2000,2100,2200,2300,2400,2500,2600,2700,2800,2900], "labels": false, "title": null, "tickSize": {"condition": {"test": "datum.value % 500 == 0", "value": -5}, "value": -3}}},
      "y": {"field": "v", "type": "quantitative", "axis": {"orient": "right", "values": [0.55,0.6,0.65,0.7,0.75,0.8,0.85,0.9,0.95,1,1.05,1.1,1.15,1.2,1.25,1.3,1.35,1.4,1.45], "labels": false, "title": null, "tickSize": {"condition": {"test": "abs(datum.value*5 - round(datum.value*5)) < 0.01", "value": -5}, "value": -3}}}
     }}
   ]
  },
  {
   "width": 201, "height": 176,
   "resolve": {"axis": {"x": "independent", "y": "independent"}},
   "layer": [
    {"data": {"values": [{"lo": 0.85, "hi": 1.15}]},
     "mark": {"type": "rect", "color": "#bebebe"},
     "encoding": {"y": {"field": "lo", "type": "quantitative", "scale": {"domain": [0.5, 1.5], "nice": false, "zero": false}, "axis": null}, "y2": {"field": "hi"}}},
    {"data": {"values": [{"one": 1}]},
     "mark": {"type": "rule", "color": "black", "strokeWidth": 1.2},
     "encoding": {"y": {"field": "one", "type": "quantitative", "axis": null}}},
    {"data": {"name": "errM"},
     "mark": {"type": "rule", "color": "black", "strokeWidth": 1.5, "clip": true},
     "encoding": {"x": {"field": "f", "type": "quantitative", "scale": {"domain": [610, 2960], "nice": false, "zero": false}, "axis": null}, "y": {"field": "lo", "type": "quantitative", "axis": null}, "y2": {"field": "hi"}}},
    {"data": {"name": "ratM"},
     "mark": {"type": "line", "clip": true, "strokeWidth": 1.5},
     "encoding": {
      "x": {"field": "f", "type": "quantitative", "axis": {"orient": "bottom", "values": [700,800,900,1000,1100,1200,1300,1400,1500,1600,1700,1800,1900,2000,2100,2200,2300,2400,2500,2600,2700,2800,2900], "format": "d", "labelExpr": "datum.value % 500 == 0 ? datum.label : ''", "tickSize": {"condition": {"test": "datum.value % 500 == 0", "value": -5}, "value": -3}, "labelPadding": 15, "title": "frequency (in μHz)", "titlePadding": 1}},
      "y": {"field": "v", "type": "quantitative", "axis": {"orient": "left", "values": [0.55,0.6,0.65,0.7,0.75,0.8,0.85,0.9,0.95,1,1.05,1.1,1.15,1.2,1.25,1.3,1.35,1.4,1.45], "format": ".1f", "labelExpr": "abs(datum.value*5 - round(datum.value*5)) < 0.01 ? datum.label : ''", "tickSize": {"condition": {"test": "abs(datum.value*5 - round(datum.value*5)) < 0.01", "value": -5}, "value": -3}, "labelPadding": 10, "title": "Height systematics", "titlePadding": 9}},
      "color": {"field": "s", "type": "nominal", "scale": {"domain": ["Antia","Regulo","Davies","Benomar","Campante","Handberg","Appourchaux"], "range": ["black","#ff3c1e","#00e5f0","#ffbf00","#1ee61e","#ff4b14","black"]}, "legend": null},
      "strokeDash": {"field": "s", "type": "nominal", "scale": {"domain": ["Antia","Regulo","Davies","Benomar","Campante","Handberg","Appourchaux"], "range": [[6,5],[1,0],[1,0],[1,0],[1,0],[6,5],[1,0]]}, "legend": null}
     }},
    {"data": {"name": "ratM"},
     "mark": {"type": "point", "opacity": 0},
     "encoding": {
      "x": {"field": "f", "type": "quantitative", "axis": {"orient": "top", "values": [700,800,900,1000,1100,1200,1300,1400,1500,1600,1700,1800,1900,2000,2100,2200,2300,2400,2500,2600,2700,2800,2900], "labels": false, "title": null, "tickSize": {"condition": {"test": "datum.value % 500 == 0", "value": -5}, "value": -3}}},
      "y": {"field": "v", "type": "quantitative", "axis": {"orient": "right", "values": [0.55,0.6,0.65,0.7,0.75,0.8,0.85,0.9,0.95,1,1.05,1.1,1.15,1.2,1.25,1.3,1.35,1.4,1.45], "labels": false, "title": null, "tickSize": {"condition": {"test": "abs(datum.value*5 - round(datum.value*5)) < 0.01", "value": -5}, "value": -3}}}
     }}
   ]
  },
  {
   "width": 201, "height": 176,
   "resolve": {"axis": {"x": "independent", "y": "independent"}},
   "layer": [
    {"data": {"values": [{"lo": 0.95, "hi": 1.05}]},
     "mark": {"type": "rect", "color": "#bebebe"},
     "encoding": {"y": {"field": "lo", "type": "quantitative", "scale": {"domain": [0.75, 1.25], "nice": false, "zero": false}, "axis": null}, "y2": {"field": "hi"}}},
    {"data": {"values": [{"one": 1}]},
     "mark": {"type": "rule", "color": "black", "strokeWidth": 1.2},
     "encoding": {"y": {"field": "one", "type": "quantitative", "axis": null}}},
    {"data": {"name": "errR"},
     "mark": {"type": "rule", "color": "black", "strokeWidth": 1.5, "clip": true},
     "encoding": {"x": {"field": "f", "type": "quantitative", "scale": {"domain": [610, 2960], "nice": false, "zero": false}, "axis": null}, "y": {"field": "lo", "type": "quantitative", "axis": null}, "y2": {"field": "hi"}}},
    {"data": {"name": "ratR"},
     "mark": {"type": "line", "clip": true, "strokeWidth": 1.5},
     "encoding": {
      "x": {"field": "f", "type": "quantitative", "axis": {"orient": "bottom", "values": [700,800,900,1000,1100,1200,1300,1400,1500,1600,1700,1800,1900,2000,2100,2200,2300,2400,2500,2600,2700,2800,2900], "format": "d", "labelExpr": "datum.value % 500 == 0 ? datum.label : ''", "tickSize": {"condition": {"test": "datum.value % 500 == 0", "value": -5}, "value": -3}, "labelPadding": 15, "title": "frequency (in μHz)", "titlePadding": 1}},
      "y": {"field": "v", "type": "quantitative", "axis": {"orient": "left", "values": [0.76,0.78,0.8,0.82,0.84,0.86,0.88,0.9,0.92,0.94,0.96,0.98,1,1.02,1.04,1.06,1.08,1.1,1.12,1.14,1.16,1.18,1.2,1.22,1.24], "format": ".1f", "labelExpr": "abs(datum.value*10 - round(datum.value*10)) < 0.01 ? datum.label : ''", "tickSize": {"condition": {"test": "abs(datum.value*10 - round(datum.value*10)) < 0.01", "value": -5}, "value": -3}, "labelPadding": 10, "title": "Amplitude systematics", "titlePadding": 9}},
      "color": {"field": "s", "type": "nominal", "scale": {"domain": ["Antia","Regulo","Davies","Benomar","Campante","Handberg","Appourchaux"], "range": ["black","#ff3c1e","#00e5f0","#ffbf00","#1ee61e","#ff4b14","black"]}, "legend": null},
      "strokeDash": {"field": "s", "type": "nominal", "scale": {"domain": ["Antia","Regulo","Davies","Benomar","Campante","Handberg","Appourchaux"], "range": [[6,5],[1,0],[1,0],[1,0],[1,0],[6,5],[1,0]]}, "legend": null}
     }},
    {"data": {"name": "ratR"},
     "mark": {"type": "point", "opacity": 0},
     "encoding": {
      "x": {"field": "f", "type": "quantitative", "axis": {"orient": "top", "values": [700,800,900,1000,1100,1200,1300,1400,1500,1600,1700,1800,1900,2000,2100,2200,2300,2400,2500,2600,2700,2800,2900], "labels": false, "title": null, "tickSize": {"condition": {"test": "datum.value % 500 == 0", "value": -5}, "value": -3}}},
      "y": {"field": "v", "type": "quantitative", "axis": {"orient": "right", "values": [0.76,0.78,0.8,0.82,0.84,0.86,0.88,0.9,0.92,0.94,0.96,0.98,1,1.02,1.04,1.06,1.08,1.1,1.12,1.14,1.16,1.18,1.2,1.22,1.24], "labels": false, "title": null, "tickSize": {"condition": {"test": "abs(datum.value*10 - round(datum.value*10)) < 0.01", "value": -5}, "value": -3}}}
     }}
   ]
  }
 ]
}
